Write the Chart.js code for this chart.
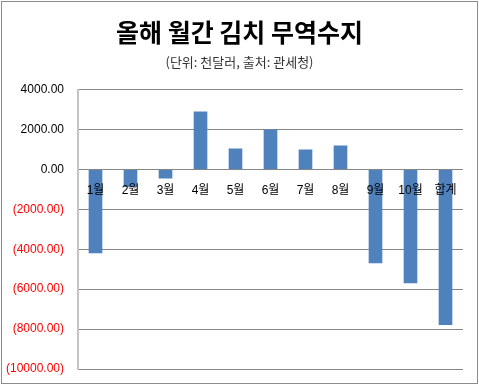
<!DOCTYPE html>
<html><head><meta charset="utf-8">
<script src="https://cdn.jsdelivr.net/npm/chart.js@4"></script>
<style>
html,body{margin:0;padding:0;background:#fff;}
#wrap{position:relative;width:479px;height:385px;}
#frame{position:absolute;left:1px;top:1px;width:475px;height:381px;border:1px solid #8c8c8c;pointer-events:none;}
canvas{position:absolute;left:0;top:0;}
</style></head>
<body>
<div id="wrap"><canvas id="c" width="479" height="385"></canvas><div id="frame"></div></div>
<script>
const categories = ['1월','2월','3월','4월','5월','6월','7월','8월','9월','10월','합계'];
const balance = [-4200, -880, -450, 2900, 1050, 2000, 1000, 1200, -4700, -5700, -7800];
const yTickValues = [4000, 2000, 0, -2000, -4000, -6000, -8000, -10000];
const titleText = '올해 월간 김치 무역수지';
const subtitleText = '(단위: 천달러, 출처: 관세청)';

const fmt = v => v < 0 ? '(' + Math.abs(v).toFixed(2) + ')' : v.toFixed(2);

new Chart(document.getElementById('c'), {
  type: 'bar',
  data: {
    labels: categories,
    datasets: [{
      data: balance,
      backgroundColor: '#4f81bd',
      borderWidth: 0,
      categoryPercentage: 1,
      barPercentage: 0.39
    }]
  },
  options: {
    responsive: false,
    animation: false,
    layout: { padding: { left: 0, right: 0, top: 0, bottom: 16 } },
    plugins: {
      legend: { display: false },
      tooltip: { enabled: false },
      title: {
        display: true, text: titleText, color: '#000',
        font: { family: "'Noto Sans CJK KR', sans-serif", size: 25, weight: 'bold', lineHeight: 1.2 },
        padding: { top: 17, bottom: 0 }
      },
      subtitle: {
        display: true, text: subtitleText, color: '#333',
        font: { family: "'Noto Sans CJK KR', sans-serif", size: 13, lineHeight: 1.2 },
        padding: { top: 7, bottom: 20 }
      }
    },
    scales: {
      x: {
        type: 'category',
        position: { y: 0 },
        afterFit: s => { s.height = 0; },
        grid: { display: false, drawTicks: false },
        border: { display: false },
        ticks: {
          z: 1,
          color: '#000', padding: 14, maxRotation: 0, autoSkip: false,
          font: { family: "'Liberation Sans', 'Noto Sans CJK KR', sans-serif", size: 12 }
        }
      },
      y: {
        min: -10000, max: 4000,
        afterBuildTicks: s => { s.ticks = yTickValues.map(v => ({ value: v })); },
        afterFit: s => { s.width = 78; },
        grid: { color: '#868686', lineWidth: 1, drawTicks: true, tickLength: 14, tickColor: 'rgba(0,0,0,0)' },
        border: { display: true, color: '#c4c4c4', width: 2 },
        ticks: {
          padding: 0,
          font: { family: "'Liberation Sans', sans-serif", size: 12 },
          color: c => (c.tick && c.tick.value < 0) ? '#ff0000' : '#000',
          callback: v => fmt(v)
        }
      },
      yRight: {
        position: 'right',
        min: -10000, max: 4000,
        afterFit: s => { s.width = 16; },
        grid: { display: false, drawOnChartArea: false, drawTicks: false },
        border: { display: false },
        ticks: { display: false }
      }
    }
  }
});
</script>
</body></html>
